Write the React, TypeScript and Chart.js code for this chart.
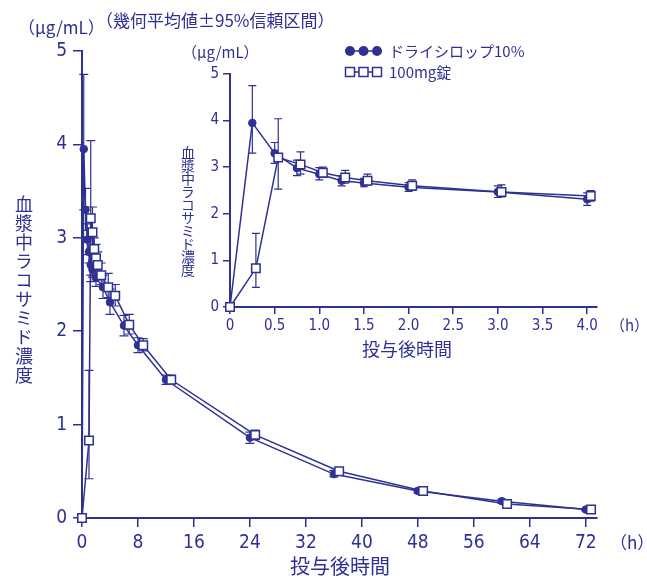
import React, { useEffect, useRef } from 'react';
import { Chart, registerables } from 'chart.js';
Chart.register(...registerables);

const NAVY = '#2e3192';
const NUM_FONT = "'Liberation Sans Narrow', 'DejaVu Sans Condensed', 'Liberation Sans', sans-serif";
const JP_FONT = "'Noto Sans CJK JP', sans-serif";
const MIX_FONT = "'Liberation Sans Narrow', 'Noto Sans CJK JP', sans-serif";

// ---- data ----
const seriesLabels = ['ドライシロップ10%', '100mg錠'];
const timesH = [0, 0.25, 0.5, 0.75, 1, 1.25, 1.5, 2, 3, 4, 6, 8, 12, 24, 36, 48, 60, 72];
const syrupMean = [0, 3.95, 3.30, 2.98, 2.85, 2.71, 2.66, 2.57, 2.47, 2.31, 2.06, 1.85, 1.48, 0.86, 0.47, 0.29, 0.18, 0.09];
const syrupLow = [0, 3.30, 3.08, 2.82, 2.73, 2.60, 2.58, 2.48, 2.35, 2.18, 1.95, 1.77, 1.43, 0.80, 0.44, 0.27, 0.16, 0.08];
const syrupHigh = [0, 4.75, 3.53, 3.15, 2.99, 2.82, 2.76, 2.67, 2.60, 2.45, 2.17, 1.93, 1.53, 0.92, 0.51, 0.31, 0.20, 0.10];
const tabletMean = [0, 0.83, 3.21, 3.06, 2.88, 2.78, 2.71, 2.60, 2.47, 2.38, 2.07, 1.85, 1.48, 0.89, 0.50, 0.29, 0.15, 0.09];
const tabletLow = [0, 0.42, 2.53, 2.85, 2.78, 2.66, 2.62, 2.50, 2.36, 2.27, 1.97, 1.79, 1.44, 0.84, 0.47, 0.27, 0.14, 0.085];
const tabletHigh = [0, 1.58, 4.04, 3.33, 3.00, 2.93, 2.85, 2.73, 2.62, 2.50, 2.18, 1.92, 1.53, 0.94, 0.53, 0.31, 0.17, 0.10];

const mainXTicks = [0, 8, 16, 24, 32, 40, 48, 56, 64, 72];
const insetXTicks = [0, 0.5, 1, 1.5, 2, 2.5, 3, 3.5, 4];
const yTicks = [0, 1, 2, 3, 4, 5];
const insetMaxTime = 4;

// display-only horizontal dodge of the tablet series (hours)
const mainDodge = 0.75;
const insetDodge = 0.04;

const errorBarPlugin = {
  id: 'errorBars',
  beforeDatasetsDraw(chart: any, _args: any, opts: any) {
    const { ctx } = chart;
    const xs = chart.scales.x;
    const ys = chart.scales.y;
    const cap = opts.cap ?? 4;
    ctx.save();
    ctx.strokeStyle = NAVY;
    ctx.lineWidth = opts.lineWidth ?? 1.2;
    chart.data.datasets.forEach((ds: any) => {
      ds.data.forEach((p: any, i: number) => {
        const lo = ds.errLow[i];
        const hi = ds.errHigh[i];
        if (hi - lo <= 0) return;
        const x = xs.getPixelForValue(p.x);
        const y1 = ys.getPixelForValue(lo);
        const y2 = ys.getPixelForValue(hi);
        ctx.beginPath();
        ctx.moveTo(x, y1);
        ctx.lineTo(x, y2);
        ctx.moveTo(x - cap, y1);
        ctx.lineTo(x + cap, y1);
        ctx.moveTo(x - cap, y2);
        ctx.lineTo(x + cap, y2);
        ctx.stroke();
      });
    });
    ctx.restore();
  },
};

const legendPlugin = {
  id: 'miniLegend',
  afterDraw(chart: any, _args: any, opts: any) {
    if (!opts || !opts.show) return;
    const { ctx } = chart;
    const rows = [
      { label: seriesLabels[0], style: 'circle', y: 51 },
      { label: seriesLabels[1], style: 'rect', y: 72 },
    ];
    ctx.save();
    rows.forEach((r) => {
      const xs = [350, 363.5, 377];
      ctx.strokeStyle = NAVY;
      ctx.lineWidth = 1.5;
      ctx.beginPath();
      ctx.moveTo(xs[0], r.y);
      ctx.lineTo(xs[2], r.y);
      ctx.stroke();
      xs.forEach((x) => {
        ctx.beginPath();
        if (r.style === 'circle') {
          ctx.arc(x, r.y, 5, 0, Math.PI * 2);
          ctx.fillStyle = NAVY;
          ctx.fill();
        } else {
          ctx.rect(x - 4.5, r.y - 4.5, 9, 9);
          ctx.fillStyle = '#fff';
          ctx.fill();
          ctx.stroke();
        }
      });
      ctx.fillStyle = NAVY;
      ctx.font = `15px ${MIX_FONT}`;
      ctx.textBaseline = 'middle';
      ctx.textAlign = 'left';
      ctx.fillText(r.label, 389, r.y);
    });
    ctx.restore();
  },
};

function buildDatasets(maxT: number, dodge: number, sqR: number, cR: number) {
  const idx = timesH.map((t, i) => i).filter((i) => timesH[i] <= maxT);
  const pick = (arr: number[]) => idx.map((i) => arr[i]);
  return [
    {
      label: seriesLabels[1],
      data: idx.map((i) => ({ x: timesH[i] > 0 ? timesH[i] + dodge : timesH[i], y: tabletMean[i] })),
      errLow: pick(tabletLow),
      errHigh: pick(tabletHigh),
      showLine: true,
      borderColor: NAVY,
      borderWidth: 1.5,
      pointStyle: 'rect',
      pointRadius: sqR,
      pointBackgroundColor: '#ffffff',
      pointBorderColor: NAVY,
      pointBorderWidth: 1.5,
      order: 0,
      clip: false,
    },
    {
      label: seriesLabels[0],
      data: idx.map((i) => ({ x: timesH[i], y: syrupMean[i] })),
      errLow: pick(syrupLow),
      errHigh: pick(syrupHigh),
      showLine: true,
      borderColor: NAVY,
      borderWidth: 1.5,
      pointStyle: 'circle',
      pointRadius: cR,
      pointBackgroundColor: NAVY,
      pointBorderColor: NAVY,
      pointBorderWidth: 1,
      order: 1,
      clip: false,
    },
  ];
}

function axisCommon(fontSize: number, tickLen: number, pad: number) {
  return {
    grid: { drawOnChartArea: false, drawTicks: true, tickLength: tickLen, color: NAVY, lineWidth: 1.5 },
    border: { display: true, color: NAVY, width: 2 },
    ticks: { color: NAVY, font: { family: NUM_FONT, size: fontSize }, padding: pad, autoSkip: false, maxRotation: 0 },
  };
}

function makeConfig(opts: any) {
  const xc = axisCommon(opts.font, opts.tickLen, opts.xPad);
  const yc = axisCommon(opts.font, opts.tickLen, opts.yPad);
  return {
    type: 'scatter',
    data: { datasets: buildDatasets(opts.maxT, opts.dodge, opts.sqR, opts.cR) },
    options: {
      responsive: false,
      animation: false,
      devicePixelRatio: 1,
      layout: { padding: { left: 0, top: opts.top, right: 647 - opts.right, bottom: 0 } },
      plugins: {
        legend: { display: false },
        tooltip: { enabled: false },
        title: { display: false },
        errorBars: { cap: opts.cap, lineWidth: 1.2 },
        miniLegend: { show: opts.legend },
      },
      scales: {
        x: {
          type: 'linear',
          min: 0,
          max: opts.xMax,
          ...xc,
          ticks: { ...xc.ticks, callback: opts.xFmt },
          afterBuildTicks: (axis: any) => {
            axis.ticks = opts.xTicks.map((v: number) => ({ value: v }));
          },
          afterFit: (axis: any) => {
            axis.height = 576 - opts.bottom;
          },
        },
        y: {
          type: 'linear',
          min: 0,
          max: 5,
          ...yc,
          afterBuildTicks: (axis: any) => {
            axis.ticks = yTicks.map((v) => ({ value: v }));
          },
          afterFit: (axis: any) => {
            axis.width = opts.left;
          },
        },
      },
    },
    plugins: [errorBarPlugin, legendPlugin],
  };
}

const txt = (extra: any): any => ({
  position: 'absolute',
  color: NAVY,
  whiteSpace: 'nowrap',
  lineHeight: 1,
  ...extra,
});

export default function App() {
  const mainRef = useRef<HTMLCanvasElement>(null);
  const insetRef = useRef<HTMLCanvasElement>(null);

  useEffect(() => {
    const main = new Chart(
      mainRef.current as HTMLCanvasElement,
      makeConfig({
        maxT: 1000,
        dodge: mainDodge,
        sqR: 6,
        cR: 3.8,
        font: 19,
        tickLen: 9,
        xPad: 5,
        yPad: 6,
        top: 51,
        bottom: 518,
        left: 82,
        right: 597,
        xMax: 73.6,
        xTicks: mainXTicks,
        xFmt: (v: any) => String(v),
        cap: 4.5,
        legend: false,
      }) as any
    );
    const inset = new Chart(
      insetRef.current as HTMLCanvasElement,
      makeConfig({
        maxT: insetMaxTime,
        dodge: insetDodge,
        sqR: 6,
        cR: 3.8,
        font: 15,
        tickLen: 7,
        xPad: 3,
        yPad: 4,
        top: 74,
        bottom: 307,
        left: 230,
        right: 597,
        xMax: 4.11,
        xTicks: insetXTicks,
        xFmt: (v: any) => (v === 0 ? '0' : Number(v).toFixed(1)),
        cap: 4,
        legend: true,
      }) as any
    );
    return () => {
      main.destroy();
      inset.destroy();
    };
  }, []);

  const vertical = (extra: any): any => ({
    ...txt(extra),
    writingMode: 'vertical-rl',
    textOrientation: 'upright',
    fontFamily: JP_FONT,
  });

  return (
    <div style={{ position: 'absolute', left: 0, top: 0, width: 647, height: 576, background: '#fff' }}>
      <canvas ref={mainRef} width={647} height={576} style={{ position: 'absolute', left: 0, top: 0, width: 647, height: 576 }} />
      <canvas ref={insetRef} width={647} height={576} style={{ position: 'absolute', left: 0, top: 0, width: 647, height: 576 }} />
      <div style={txt({ left: 18, top: 26, transform: 'translateY(-50%)', fontSize: 17, fontFamily: MIX_FONT })}>（μg/mL）</div>
      <div style={txt({ left: 96, top: 19, transform: 'translateY(-50%)', fontSize: 17, fontFamily: JP_FONT })}>（幾何平均値±95%信頼区間）</div>
      <div style={txt({ left: 182, top: 51, transform: 'translateY(-50%)', fontSize: 15, fontFamily: MIX_FONT })}>（μg/mL）</div>
      <div style={txt({ left: 610, top: 541, transform: 'translateY(-50%)', fontSize: 17, fontFamily: MIX_FONT })}>（h）</div>
      <div style={txt({ left: 610, top: 324, transform: 'translateY(-50%)', fontSize: 15, fontFamily: MIX_FONT })}>（h）</div>
      <div style={txt({ left: 340, top: 566, transform: 'translate(-50%,-50%)', fontSize: 20, fontFamily: JP_FONT })}>投与後時間</div>
      <div style={txt({ left: 407, top: 348, transform: 'translate(-50%,-50%)', fontSize: 18, fontFamily: JP_FONT })}>投与後時間</div>
      <div style={vertical({ left: 24, top: 195, transform: 'translateX(-50%)', fontSize: 18, letterSpacing: 1 })}>血漿中ラコサミド濃度</div>
      <div style={vertical({ left: 188, top: 146, transform: 'translateX(-50%)', fontSize: 14, letterSpacing: -1 })}>血漿中ラコサミド濃度</div>
    </div>
  );
}
